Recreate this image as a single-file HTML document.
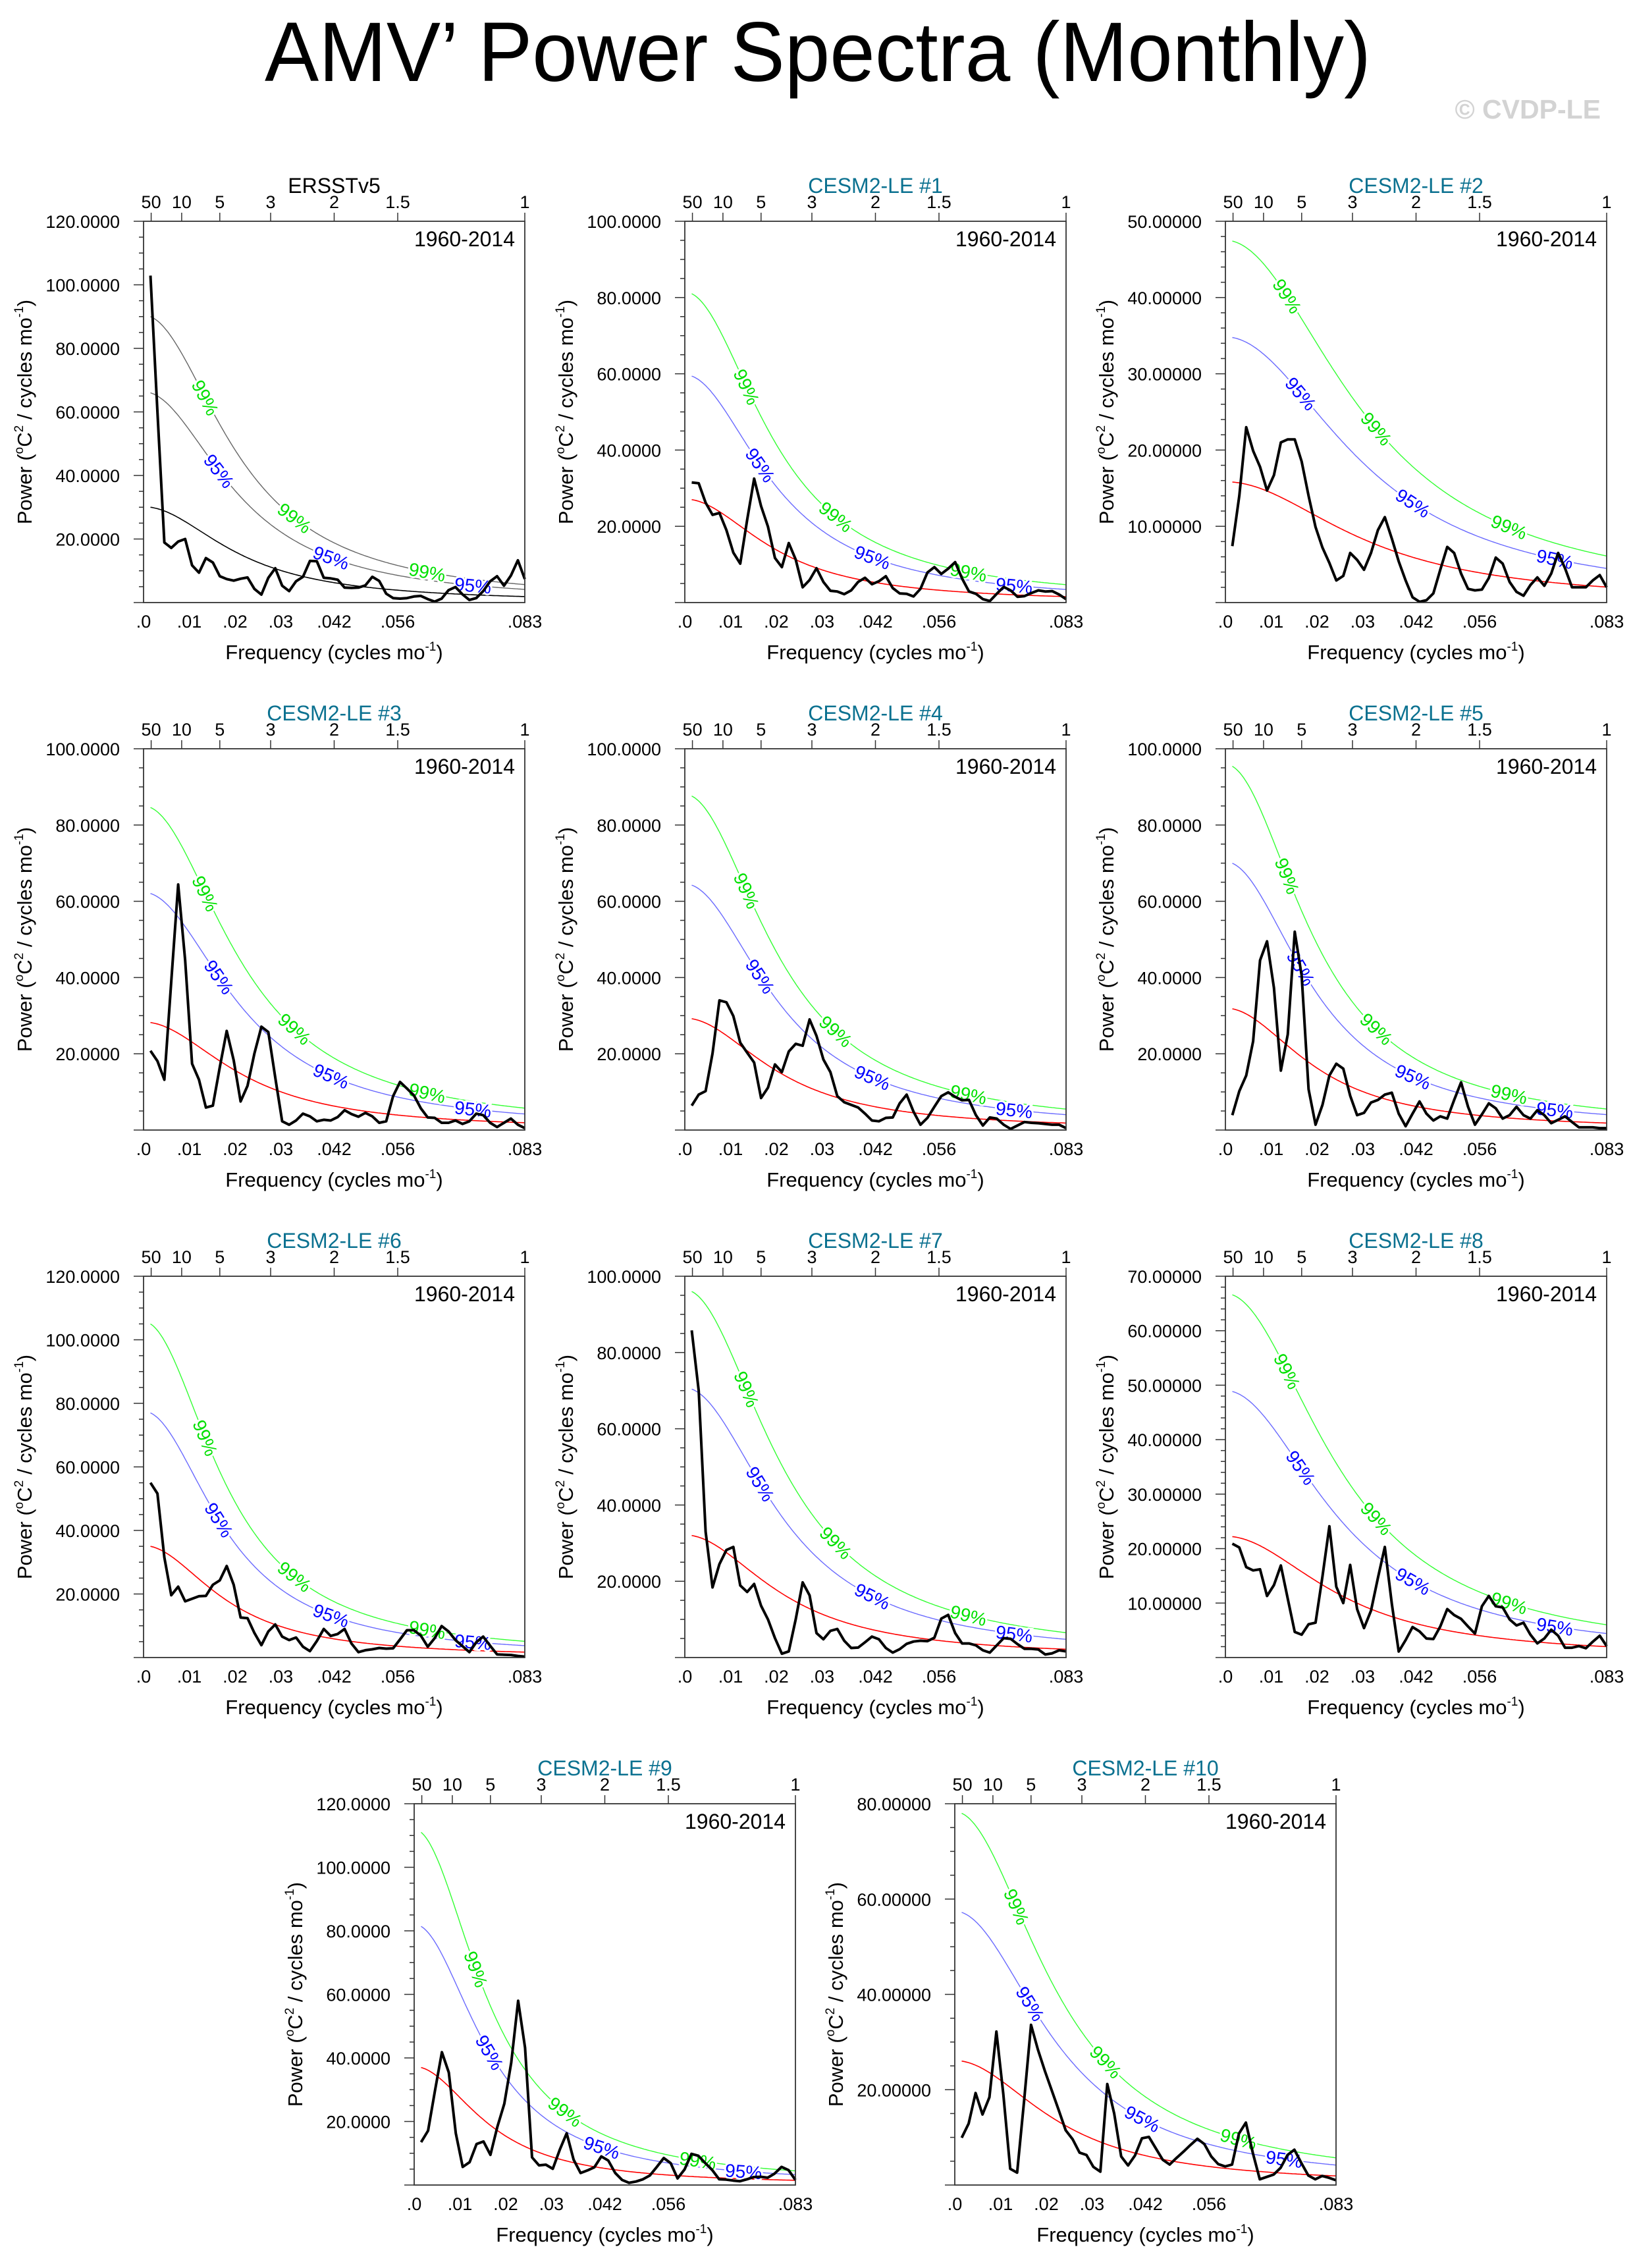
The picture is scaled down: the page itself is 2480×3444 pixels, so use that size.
<!DOCTYPE html>
<html>
<head>
<meta charset="utf-8">
<style>
  html,body{margin:0;padding:0;background:#fff;}
  svg{display:block;font-family:"Liberation Sans",Arial,sans-serif;}
</style>
</head>
<body>
<svg id="fig" xmlns="http://www.w3.org/2000/svg" width="2480" height="3444" viewBox="0 0 2480 3444">
  <rect x="0" y="0" width="2480" height="3444" fill="#fff"/>
  <text x="1242" y="123" font-size="128" text-anchor="middle" textLength="1680" lengthAdjust="spacingAndGlyphs" fill="#000">AMV’ Power Spectra (Monthly)</text>
  <text x="2431" y="180" font-size="41" font-weight="bold" text-anchor="end" fill="#d3d3d3">© CVDP-LE</text>
  <g id="panels"></g>
</svg>
<script>
// ---------- data ----------
const panelTitles = ["ERSSTv5","CESM2-LE #1","CESM2-LE #2","CESM2-LE #3","CESM2-LE #4","CESM2-LE #5","CESM2-LE #6","CESM2-LE #7","CESM2-LE #8","CESM2-LE #9","CESM2-LE #10"];
const periodLabel = "1960-2014";
const nMonths = 660;
const yMaxes = [120,100,50,100,100,100,120,100,70,120,80];
const yMajorSteps = [20,20,10,20,20,20,20,20,10,20,20];
const redNoiseStart = [30,27,15.8,28.2,29.2,31.8,35,32,22.2,37,26];
const redNoiseR = [0.875,0.88,0.82,0.87,0.875,0.88,0.89,0.87,0.85,0.9,0.865];
const factor95 = 2.2;
const factor99 = 3.0;
const topTickYears = [50,10,5,3,2,1.5,1];
const topTickLabels = ["50","10","5","3","2","1.5","1"];
const bottomTickFreqs = [0,0.01,0.02,0.03,1/24,1/18,1/12];
const bottomTickLabels = [".0",".01",".02",".03",".042",".056",".083"];
const label99Freqs = [0.0135,0.033,0.062];
const label95Freqs = [0.0165,0.041,0.072];

const ersstPower = [102.9,60,18.9,17.2,19.2,20,11.7,9.4,14,12.6,8.3,7.4,6.9,7.5,7.9,4.3,2.5,7.8,10.8,5.3,3.6,6.7,8.1,13.1,13,7.8,7.6,7.2,4.7,4.6,4.7,5.4,8.1,6.8,2.8,1.4,1.25,1.4,1.9,2.1,1.1,0.3,1.25,3.9,4.9,2.6,0.8,1.4,3.6,6.7,8.3,5.3,8.5,13.3,7.4];
const le1Power = [31.5,31.3,26.2,23,23.5,19,13.1,10.2,21.7,32.5,25.3,19.9,11.7,9.3,15.6,11.3,4,5.9,9,5.4,3.1,2.9,2.2,3.2,5.4,6.5,4.8,5.6,6.9,3.8,2.4,2.3,1.6,3.6,7.9,9.3,7.5,8.9,10.6,6.3,2.9,2.3,0.9,0.4,2.3,4.1,3.2,1.5,1.7,2.5,3.2,2.9,3.0,2.1,0.9];
const le2Power = [7.4,14,23,19.9,17.8,14.7,16.7,21,21.4,21.4,18.5,14,9.9,7.2,5.2,2.9,3.5,6.5,5.6,4.3,6.5,9.5,11.2,8.4,5.4,2.9,0.7,0.1,0.3,1.2,4.3,7.3,6.5,3.8,1.8,1.6,1.7,3.2,5.9,5.1,2.7,1.4,0.9,2.3,3.3,2.2,3.8,6.5,4.5,2,2,2,2.9,3.6,2];
const le3Power = [20.8,18.1,13.2,39,64.4,44.5,17.4,13.2,5.9,6.4,16.5,26,18.3,7.5,11.6,20.1,27.1,25.7,13.8,2.3,1.4,2.5,4.3,3.6,2.3,2.7,2.5,3.4,5.2,4.2,3.5,4.5,3.6,1.9,2.3,8.9,12.6,10.9,9.1,5.7,3.3,3.2,1.9,1.9,2.5,1.6,2.3,4.3,3.9,1.9,0.8,1.9,3,1.4,0.5];
const le4Power = [6.4,9.3,10.2,20.1,34,33.5,29.9,22.9,20.3,17.7,8.4,11.1,17.2,15.2,20.6,22.6,22.1,29,24.7,18.5,15.2,8.9,7.3,6.6,5.9,4.3,2.5,2.3,3.2,3.3,7.0,9.3,4.8,1.4,3.2,6.1,8.9,9.9,8.7,7.8,7.9,3.9,1.2,3.3,3,1.4,0.3,1.2,2.1,1.9,1.8,1.6,1.4,1.4,0.5];
const le5Power = [3.9,10.2,14.3,23.3,44.5,49.5,37.3,15.6,25.1,52,40.5,10.7,1.4,6.6,14.3,17.4,16.1,9,3.9,4.5,7.2,7.9,9.3,9.8,4.3,1,4.3,7.5,4.3,2.5,3.6,3,7.9,12.5,6.1,1.4,4.1,7,5.7,3,3.9,6.1,3.9,3,5.2,3.9,1.8,2.7,3.6,2.1,0.7,0.7,0.7,0.5,0.5];
const le6Power = [55,51.6,31.5,19.6,22.3,17.7,18.5,19.3,19.4,22.9,24.3,28.8,22.9,12.6,12.4,7.7,3.9,8.2,10.4,6.6,5.5,6.3,3.4,2,5.2,9,6.8,7.4,9,4.4,1.7,2.3,2.6,3,2.8,2.9,5.7,8.6,8.6,6.9,3.4,6.1,9.9,8.2,5.5,3.6,1.7,4.8,6.6,3.7,1,0.9,0.8,0.5,0.3];
const le7Power = [85.8,70,33,18.4,24.5,28.2,29,18.9,17.2,19.3,13.6,10,5.1,1,1.6,10,19.7,16.3,6.4,4.8,7,7.5,4.4,2.5,2.6,4,5.5,4.8,2.5,1.3,2.2,3.6,4.2,4.4,4.3,5.2,10.2,11.2,6.4,3.7,3.7,3.2,1.9,1.3,3.2,5.1,4.9,3.5,2.3,2.3,2.1,0.8,1.1,1.9,1.6];
const le8Power = [20.9,20.2,16.6,16,16.2,11.3,13.3,16.9,10.8,4.7,4.2,6.1,6.4,14.9,24.1,13,10,17,8.9,5.4,8.6,14.6,20.3,9.9,1.1,3.2,5.6,4.8,3.5,3.4,5.7,8.9,7.8,7.1,5.7,4.4,9.4,11.3,9.4,9.2,7,5.9,6.4,4.2,2.6,3.5,5.1,4,1.8,1.8,2.1,1.7,2.9,4,2.1];
const le9Power = [13.5,17.1,29.7,41.8,35.4,16.3,5.7,7.2,12.9,13.7,9.5,18.3,25.6,38.5,58,43.2,8.7,6.2,6.4,5.1,11.1,16.3,8,3.8,4.6,5.6,9,7.7,3.8,1.6,0.7,1.1,1.8,3,5.7,8.5,6.9,2.1,4.9,9.8,9.2,6.9,4.7,1.8,1.7,1.4,1.2,1.8,2.5,2.6,2.3,3.6,5.7,4.7,1.6];
const le10Power = [9.9,12.9,19.3,14.8,18.4,32.2,19.1,3.4,2.6,17.7,33.6,28.4,23.9,19.8,15.7,11.5,9.6,6.8,6.3,3.8,2.8,21.2,15,6,4.1,6.2,9.8,10.1,7.7,5.3,4.3,5.7,7,8.4,9.7,8.6,6,4.4,3.9,4.3,10.8,13.1,6.7,1.2,1.7,2.2,3.6,6.3,7.4,4.6,2,1.2,1.9,1.5,1];

const powerSeries = [ersstPower,le1Power,le2Power,le3Power,le4Power,le5Power,le6Power,le7Power,le8Power,le9Power,le10Power];

// ---------- layout ----------
const panelLefts = [218,1040,1861,218,1040,1861,218,1040,1861,629,1450];
const panelTops = [336,336,336,1137,1137,1137,1938,1938,1938,2739,2739];
const W = 579, H = 579, FMAX = 1/12;
const NS = "http://www.w3.org/2000/svg";
const root = document.getElementById("panels");

function el(tag, attrs, parent){
  const e = document.createElementNS(NS, tag);
  for (const k in attrs) e.setAttribute(k, attrs[k]);
  parent.appendChild(e);
  return e;
}
function fmtY(v, ymax){ return v.toFixed(ymax >= 100 ? 4 : 5); }

panelTitles.forEach((title, p) => {
  const L = panelLefts[p], T = panelTops[p], B = T + H, R = L + W;
  const ymax = yMaxes[p], step = yMajorSteps[p];
  const isObs = p === 0;
  const xs = f => L + f / FMAX * W;
  const ys = v => B - v / ymax * H;

  const g = el("g", {}, root);
  
  

  // title
  const tt = el("text", {x: L + W/2, y: T - 43, "font-size": 32, "text-anchor": "middle", fill: isObs ? "#000" : "#0b7190"}, g);
  tt.textContent = title;
  
  

  // clip
  const cid = "clip" + p;
  const cp = el("clipPath", {id: cid}, g);
  el("rect", {x: L, y: T, width: W, height: H}, cp);

  // y ticks
  const sub = step === 10 ? 5 : 4;
  const minor = step / sub;
  for (let v = 0; v <= ymax + 1e-9; v += minor) {
    const isMajor = Math.abs(v / step - Math.round(v / step)) < 1e-6;
    const y = ys(v);
    const tk = el("line", {x1: L - (isMajor ? 15 : 7), x2: L, y1: y, y2: y, stroke: "#333", "stroke-width": 1.5}, g);
    
    
    if (isMajor && v > 0) {
      const lb = el("text", {x: L - 36, y: y + 10, "font-size": 27, "text-anchor": "end", fill: "#000"}, g);
      lb.textContent = fmtY(v, ymax);
      
      
    }
  }

  // top ticks (period in years)
  topTickYears.forEach((yr, i) => {
    const x = xs(1 / (12 * yr));
    const tk = el("line", {x1: x, x2: x, y1: T - 13, y2: T, stroke: "#333", "stroke-width": 1.5}, g);
    
    
    const lb = el("text", {x: x, y: T - 20, "font-size": 27, "text-anchor": "middle", fill: "#000"}, g);
    lb.textContent = topTickLabels[i];
    
    
  });

  // bottom tick labels
  bottomTickFreqs.forEach((f, i) => {
    const lb = el("text", {x: xs(f), y: B + 38, "font-size": 27, "text-anchor": "middle", fill: "#000"}, g);
    lb.textContent = bottomTickLabels[i];
    
    
  });

  // red noise & significance curves
  const r = redNoiseR[p];
  const base = f => 1 / (1 - 2 * r * Math.cos(2 * Math.PI * f) + r * r);
  const f1 = 1 / nMonths;
  const red = f => redNoiseStart[p] * base(f) / base(f1);
  const curvePath = fac => {
    let d = "";
    for (let i = 0; i <= 240; i++) {
      const f = f1 + (FMAX - f1) * i / 240;
      d += (i ? "L" : "M") + xs(f).toFixed(1) + "," + ys(red(f) * fac).toFixed(1);
    }
    return d;
  };
  const c99 = el("path", {d: curvePath(factor99), fill: "none", stroke: isObs ? "#666" : "#33ff33", "stroke-width": 1.4, "clip-path": "url(#" + cid + ")"}, g);
  
  
  const c95 = el("path", {d: curvePath(factor95), fill: "none", stroke: isObs ? "#666" : "#6a6aff", "stroke-width": 1.4, "clip-path": "url(#" + cid + ")"}, g);
  
  
  const cr = el("path", {d: curvePath(1), fill: "none", stroke: isObs ? "#000" : "#ff0000", "stroke-width": 1.6, "clip-path": "url(#" + cid + ")"}, g);
  
  

  // curve labels
  const addLabels = (freqs, fac, txt, col, nm) => {
    freqs.forEach(f => {
      const x = xs(f), y = ys(red(f) * fac);
      const dx = xs(f + 0.0005) - x, dy = ys(red(f + 0.0005) * fac) - y;
      const ang = Math.atan2(dy, dx) * 180 / Math.PI;
      const lb = el("text", {x: x, y: y + 10, "font-size": 28, "text-anchor": "middle", fill: col,
        stroke: "#fff", "stroke-width": 6, "paint-order": "stroke", transform: "rotate(" + ang.toFixed(1) + " " + x.toFixed(1) + " " + y.toFixed(1) + ")"}, g);
      lb.textContent = txt;
      
      
    });
  };
  addLabels(label99Freqs, factor99, "99%", "#00e000", 'label-99-percent');
  addLabels(label95Freqs, factor95, "95%", "#0000ff", 'label-95-percent');

  // spectrum
  const vals = powerSeries[p];
  const d = vals.map((v, k) => (k ? "L" : "M") + xs((k + 1) / nMonths).toFixed(1) + "," + ys(v).toFixed(1)).join("");
  const sp = el("path", {d: d, fill: "none", stroke: "#000", "stroke-width": 4, "stroke-linejoin": "round"}, g);
  
  

  // box
  const bx = el("rect", {x: L, y: T, width: W, height: H, fill: "none", stroke: "#333", "stroke-width": 1.8}, g);
  
  

  // period label
  const pl = el("text", {x: R - 15, y: T + 38, "font-size": 32, "text-anchor": "end", fill: "#000"}, g);
  pl.textContent = periodLabel;
  
  

  // x axis title
  const xt = el("text", {x: L + W/2, y: B + 86, "font-size": 31, "text-anchor": "middle", fill: "#000"}, g);
  
  
  xt.appendChild(document.createTextNode("Frequency (cycles mo"));
  const s1 = el("tspan", {"font-size": 19, dy: -13}, xt); s1.textContent = "-1";
  const s2 = el("tspan", {dy: 13}, xt); s2.textContent = ")";

  // y axis title
  const cx = L - 170, cy = T + H/2;
  const yt = el("text", {x: cx, y: cy, "font-size": 31, "text-anchor": "middle", fill: "#000", transform: "rotate(-90 " + cx + " " + cy + ")"}, g);
  
  
  yt.appendChild(document.createTextNode("Power ("));
  const a = el("tspan", {"font-size": 19, dy: -13}, yt); a.textContent = "o";
  const b = el("tspan", {dy: 13}, yt); b.textContent = "C";
  const c = el("tspan", {"font-size": 19, dy: -13}, yt); c.textContent = "2";
  const d2 = el("tspan", {dy: 13}, yt); d2.textContent = " / cycles mo";
  const e = el("tspan", {"font-size": 19, dy: -13}, yt); e.textContent = "-1";
  const f = el("tspan", {dy: 13}, yt); f.textContent = ")";
});
</script>
</body>
</html>
